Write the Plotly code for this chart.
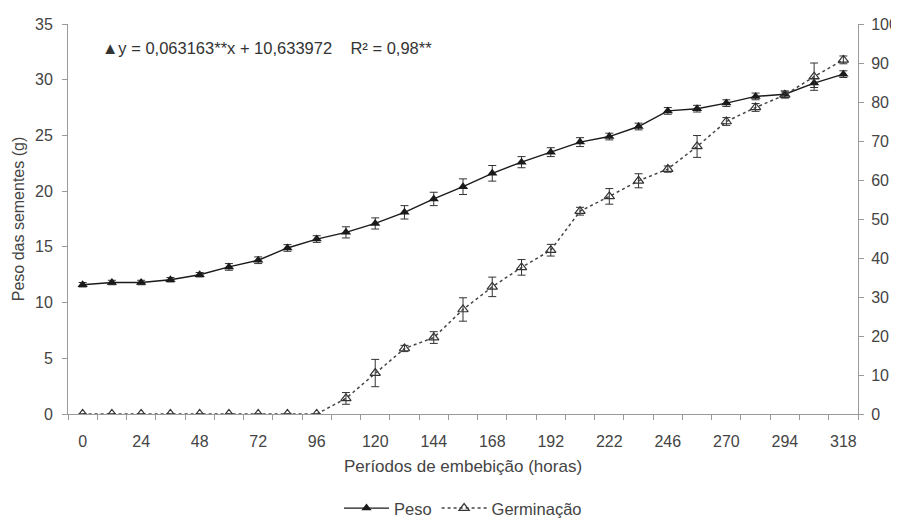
import plotly.graph_objects as go

hours = [0, 12, 24, 36, 48, 60, 72, 84, 96, 108, 120, 132, 144, 156, 168, 180, 192,
         207, 222, 234, 246, 258, 270, 282, 294, 306, 318]
tick_labels = ["0", "24", "48", "72", "96", "120", "144", "168", "192", "222", "246", "270", "294", "318"]

peso = [11.6, 11.8, 11.8, 12.05, 12.5, 13.2, 13.8, 14.9, 15.7, 16.3, 17.1, 18.1, 19.3,
        20.4, 21.6, 22.6, 23.5, 24.4, 24.9, 25.8, 27.2, 27.4, 27.9, 28.5, 28.7, 29.7, 30.5]
peso_err = [0.2, 0.2, 0.2, 0.2, 0.2, 0.3, 0.3, 0.3, 0.3, 0.5, 0.5, 0.6, 0.6,
            0.7, 0.7, 0.5, 0.4, 0.4, 0.3, 0.3, 0.3, 0.3, 0.3, 0.3, 0.3, 0.4, 0.3]

germ = [0, 0, 0, 0, 0, 0, 0, 0, 0, 4.0, 10.5, 16.8, 19.6,
        26.8, 32.6, 37.6, 42.0, 52.0, 55.8, 59.8, 62.8, 68.6, 75.0, 78.6, 81.8, 86.5, 90.8]
germ_err = [0, 0, 0, 0, 0, 0, 0, 0, 0, 1.5, 3.5, 0.8, 1.5,
            3.0, 2.5, 2.0, 1.5, 1.0, 2.0, 1.8, 0.8, 2.8, 1.0, 1.0, 0.8, 3.5, 1.0]

idx = list(range(len(hours)))
label_pos = [i for i, h in enumerate(hours) if str(h) in tick_labels]

font = "Liberation Sans, Arial, sans-serif"
txt = "#444444"
axc = "#9a9a9a"

fig = go.Figure()
fig.add_trace(go.Scatter(
    x=idx, y=peso, name="Peso", mode="lines+markers",
    line=dict(color="#1a1a1a", width=1.4),
    marker=dict(symbol="triangle-up", size=9, color="#1a1a1a"),
    error_y=dict(type="data", array=peso_err, color="#333333", thickness=1, width=4),
    yaxis="y"))
fig.add_trace(go.Scatter(
    x=idx, y=germ, name="Germinação", mode="lines+markers",
    line=dict(color="#444444", width=1.5, dash="dot"),
    marker=dict(symbol="triangle-up-open", size=9, color="#333333", line=dict(width=1.2)),
    error_y=dict(type="data", array=germ_err, color="#333333", thickness=1, width=4),
    yaxis="y2"))

fig.update_layout(
    width=891, height=514,
    paper_bgcolor="white", plot_bgcolor="white",
    margin=dict(l=60, r=41, t=16, b=108, autoexpand=False),
    font=dict(family=font, size=16, color=txt),
    showlegend=True,
    legend=dict(orientation="h", x=0.5, xanchor="center", y=-0.242, yanchor="middle",
                font=dict(size=16.5, color=txt), tracegroupgap=0, itemwidth=45),
    xaxis=dict(
        range=[-0.5, len(hours) - 0.5],
        tickmode="array", tickvals=label_pos, ticktext=tick_labels, ticks="",
        ticklabelstandoff=13,
        showline=True, linecolor=axc, linewidth=1, showgrid=False, zeroline=False,
        minor=dict(tickmode="linear", tick0=-0.5, dtick=1, ticks="outside", ticklen=5,
                   tickcolor=axc, showgrid=False),
        title=dict(text="Períodos de embebição (horas)", font=dict(size=17, color=txt), standoff=10),
        tickfont=dict(size=16, color=txt)),
    yaxis=dict(
        range=[0, 35], dtick=5, ticks="outside", ticklen=5, tickcolor=axc,
        ticklabelstandoff=6,
        showline=True, linecolor=axc, linewidth=1, showgrid=False, zeroline=False,
        title=dict(text="Peso das sementes (g)", font=dict(size=16, color=txt), standoff=6),
        tickfont=dict(size=16, color=txt)),
    yaxis2=dict(
        range=[0, 100], dtick=10, overlaying="y", side="right", ticks="outside", ticklen=5,
        ticklabelstandoff=4,
        tickcolor=axc, showline=True, linecolor=axc, linewidth=1, showgrid=False, zeroline=False,
        tickfont=dict(size=16, color=txt)),
    annotations=[dict(
        xref="paper", yref="paper", x=0.041, y=0.938, xanchor="left", yanchor="middle",
        text="▲y = 0,063163**x + 10,633972    R² = 0,98**", showarrow=False,
        font=dict(size=16.5, color="#333333"))],
)

fig.write_html("out.html")
